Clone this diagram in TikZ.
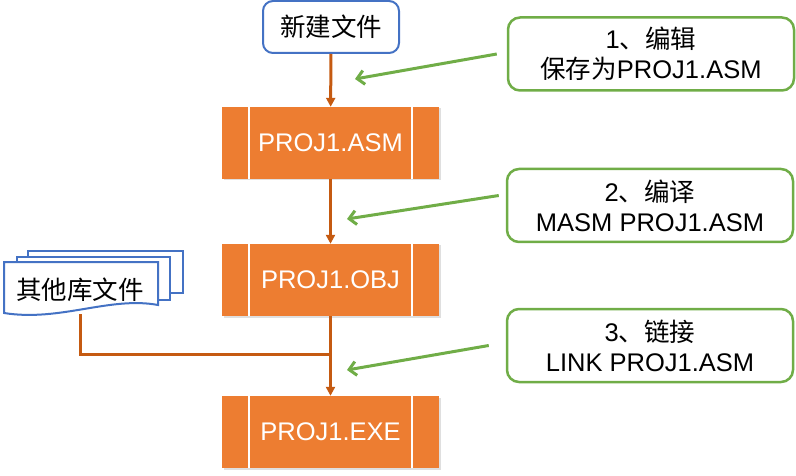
\documentclass[tikz,border=0pt]{standalone}
\usepackage{fontspec}
\setmainfont{Liberation Sans}
\newfontfamily\cjk{Noto Sans CJK SC}
\usetikzlibrary{arrows.meta,shadows}
\definecolor{procorange}{HTML}{ED7D31}
\definecolor{flowbrown}{HTML}{C55A11}
\definecolor{noteedge}{HTML}{70AD47}
\definecolor{docblue}{HTML}{4472C4}
\newcommand{\zh}[1]{{\cjk #1}}
\begin{document}
\begin{tikzpicture}[x=1pt,y=-1pt,
  every node/.style={font=\fontsize{25.5}{30}\selectfont},
  startbox/.style={draw=docblue,line width=2pt,rounded corners=10pt,fill=white,
    minimum width=136pt,minimum height=52pt},
  procbox/.style={fill=procorange,text=white,minimum width=217pt,minimum height=72pt,
    drop shadow={shadow xshift=1.5pt,shadow yshift=-1.5pt,opacity=.25},
    path picture={\draw[white,line width=2.5pt]
      ([xshift=27pt]path picture bounding box.north west) -- ([xshift=27pt]path picture bounding box.south west)
      ([xshift=-27pt]path picture bounding box.north east) -- ([xshift=-27pt]path picture bounding box.south east);}},
  notebox/.style={draw=noteedge,line width=2.5pt,rounded corners=12pt,fill=white,align=center,
    minimum width=286pt,minimum height=73pt},
  flowline/.style={draw=flowbrown,line width=3pt,-{Triangle[length=9pt,width=9pt]}},
  notearrow/.style={draw=noteedge,line width=3pt,-{Straight Barb[length=7pt,width=14pt]}},
  docpage/.style={draw=docblue,line width=2pt,fill=white}]
  \useasboundingbox (0,0) rectangle (796,476);
  \node[startbox] (newfile) at (331,27) {\zh{新建文件}};
  \node[procbox] (asm) at (330.5,143) {PROJ1.ASM};
  \node[procbox] (obj) at (330.5,280) {PROJ1.OBJ};
  \node[procbox] (exe) at (330.5,432) {PROJ1.EXE};
  \draw[docpage] (28,251) rectangle (183,293);
  \draw[docpage] (17,257) rectangle (170,300);
  \draw[docpage] (4,262) -- (158,262) -- (158,305)
    .. controls (110,296) and (60,322) .. (4,313) -- cycle;
  \node (libs) at (80,290) {\zh{其他库文件}};
  \coordinate (libfoot) at (80,314);
  \coordinate (join) at (331,354);
  \draw[flowline] (newfile) -- (asm);
  \draw[flowline] (asm) -- (obj);
  \draw[flowline] (obj) -- (exe);
  \draw[flowline,-] (libfoot) |- (join);
  \node[notebox] (note1) at (651,54) {1\zh{、编辑}\\\zh{保存为}PROJ1.ASM};
  \node[notebox] (note2) at (650,205.5) {2\zh{、编译}\\MASM PROJ1.ASM};
  \node[notebox] (note3) at (650,345.5) {3\zh{、链接}\\LINK PROJ1.ASM};
  \coordinate (tip1) at (355,79);
  \coordinate (tip2) at (347,219);
  \coordinate (tip3) at (347,370);
  \draw[notearrow] ([xshift=-10pt]note1.west) -- (tip1);
  \draw[notearrow] ([xshift=-7pt,yshift=10pt]note2.west) -- (tip2);
  \draw[notearrow] ([xshift=-17pt]note3.west) -- (tip3);
\end{tikzpicture}
\end{document}
